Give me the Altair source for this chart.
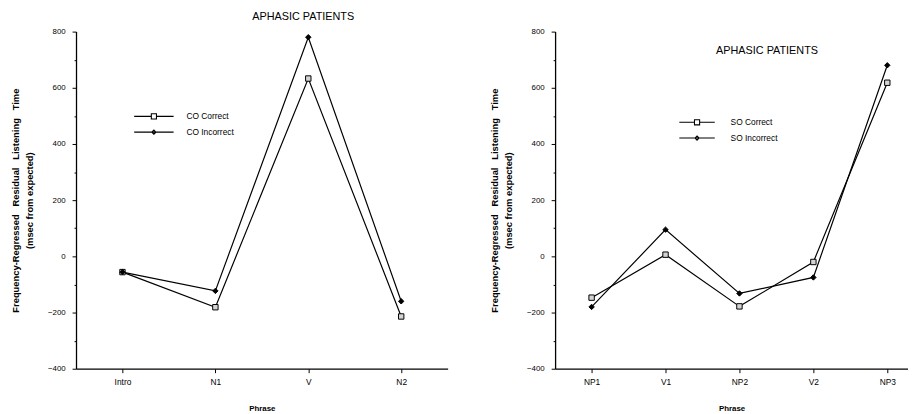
import altair as alt
import pandas as pd

# ---- data ----
left_phrases = ["Intro", "N1", "V", "N2"]
co_correct = [-56, -181, 633, -214]
co_incorrect = [-56, -123, 780, -160]
left_names = ["CO Correct", "CO Incorrect"]

right_phrases = ["NP1", "V1", "NP2", "V2", "NP3"]
so_correct = [-147, 6, -178, -20, 618]
so_incorrect = [-180, 95, -132, -75, 680]
right_names = ["SO Correct", "SO Incorrect"]

y_ticks = list(range(-400, 801, 100))
NB = "\u00a0\u00a0"
y_title = [f"Frequency-Regressed {NB}Residual {NB}Listening {NB}Time", "(msec from expected)"]

FONT = "Liberation Sans"


def legend_paths(length_units, half):
    # horizontal line with an open square / a small diamond, unit = sqrt(size)/2
    left = 1 - length_units
    mid = 1 - length_units / 2
    sq = (f"M{left},0H{mid - half:.3f}M{mid + half:.3f},0H1"
          f"M{mid - half:.3f},-{half}H{mid + half:.3f}V{half}H{mid - half:.3f}Z")
    d = round(half * 0.8, 3)
    dm = (f"M{left},0H1M{mid - d:.3f},0L{mid:.3f},-{d}L{mid + d:.3f},0L{mid:.3f},{d}Z")
    return [sq, dm]


def panel(phrases, correct, incorrect, names, width, pad, align,
          leg_x, leg_y, line_units, label_offset, title_dx, title_dy):
    n = len(phrases)
    df = pd.DataFrame({
        "Phrase": phrases * 2,
        "value": correct + incorrect,
        "series": [names[0]] * n + [names[1]] * n,
    })
    x = alt.X("Phrase:N", sort=phrases,
              scale=alt.Scale(type="point", padding=pad, align=align),
              axis=alt.Axis(title="Phrase", labelAngle=0, labelFontSize=8.5,
                            labelPadding=5, tickSize=4, titlePadding=19,
                            titleFontSize=8))
    y = alt.Y("value:Q",
              scale=alt.Scale(domain=[-400, 800], nice=False, zero=False),
              axis=alt.Axis(title=y_title, values=y_ticks,
                            labelExpr="datum.value % 200 === 0 ? datum.label : ''",
                            tickSize={"condition": {"test": "datum.value % 200 !== 0", "value": 2},
                                      "value": 4},
                            labelFontSize=8, labelPadding=7, titlePadding=13,
                            titleFontSize=9.5, titleLineHeight=14))
    base = alt.Chart(df)
    lines = base.mark_line(color="black", strokeWidth=1.2).encode(
        x=x, y=y, detail="series:N")
    pts = base.mark_point(stroke="black", strokeWidth=1, size=30, opacity=1).encode(
        x=x, y=y,
        shape=alt.Shape("series:N", scale=alt.Scale(domain=names, range=["square", "diamond"]),
                        legend=None),
        fill=alt.Fill("series:N", scale=alt.Scale(domain=names, range=["#d4d4d4", "black"]),
                      legend=None),
    )
    leg = base.mark_point(opacity=0).encode(
        x=x, y=y,
        shape=alt.Shape("series:N",
                        scale=alt.Scale(domain=names, range=legend_paths(line_units, 0.52)),
                        legend=alt.Legend(title=None, orient="none", legendX=leg_x,
                                          legendY=leg_y, symbolSize=100,
                                          symbolStrokeColor="black", symbolStrokeWidth=1.1,
                                          symbolFillColor="transparent", symbolOpacity=1,
                                          labelOffset=label_offset, labelFontSize=8.5,
                                          labelFont=FONT, labelColor="black",
                                          rowPadding=5, padding=0)),
    )
    return alt.layer(lines, pts, leg).resolve_scale(shape="independent").properties(
        width=width, height=342,
        title=alt.Title("APHASIC PATIENTS", anchor="middle", frame="group",
                        dx=title_dx, dy=title_dy, offset=-5, fontSize=11,
                        fontWeight="normal", font=FONT, color="black",
                        baseline="alphabetic"),
    )


left = panel(left_phrases, co_correct, co_incorrect, left_names, 377, 0.5, 0.5,
             88, 80, 8, 12, 42, -2)
right = panel(right_phrases, so_correct, so_incorrect, right_names, 358, 0.387, 0.638,
              151, 86, 7.2, 15, 36, 33)

chart = alt.hconcat(left, right, spacing=42).properties(
    padding={"left": 2, "top": 0, "right": 0, "bottom": 0}
).configure_view(stroke=None).configure_axis(
    domainColor="black", domainWidth=1.3, tickColor="black", tickWidth=1,
    labelFont=FONT, labelFontSize=7, labelColor="black",
    titleFont=FONT, titleFontWeight="bold", titleColor="black", grid=False,
)

chart.save("out.html", embed_options={"renderer": "svg", "actions": False})
